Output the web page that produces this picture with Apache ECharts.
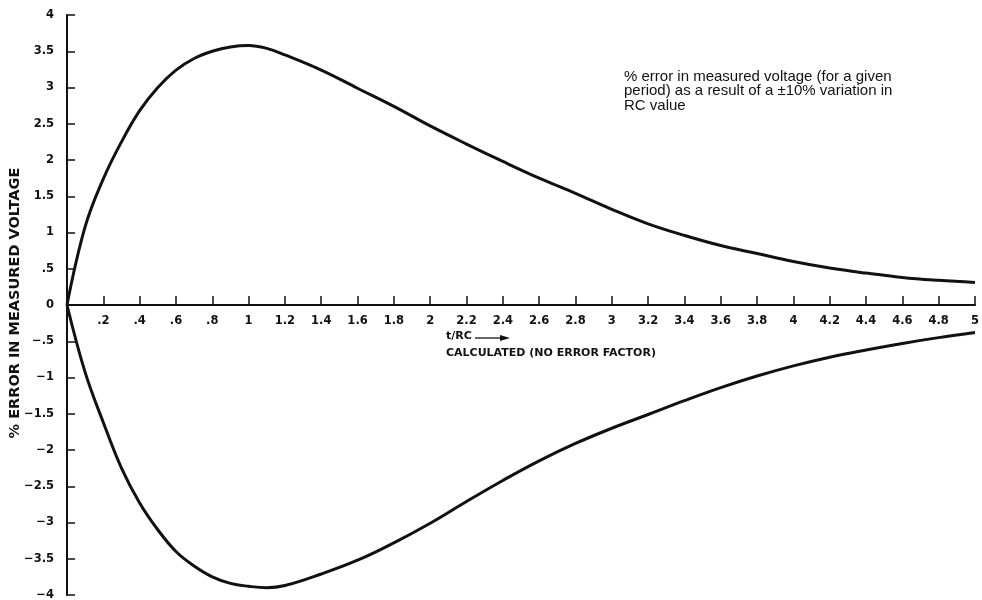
<!DOCTYPE html>
<html>
<head>
<meta charset="utf-8">
<script src="https://cdn.jsdelivr.net/npm/echarts@6/dist/echarts.min.js"></script>
<style>
html,body{margin:0;padding:0;background:#fff;}
#chart{width:982px;height:600px;}
</style>
</head>
<body>
<div id="chart"></div>
<script>
// t/RC values
const tRC = [0, 0.1, 0.2, 0.3, 0.4, 0.5, 0.6, 0.7, 0.8, 0.9, 1.0, 1.1, 1.2, 1.4, 1.6, 1.8, 2.0, 2.2, 2.4, 2.6, 2.8, 3.0, 3.2, 3.4, 3.6, 3.8, 4.0, 4.2, 4.4, 4.6, 4.8, 5.0];
// % error, upper curve
const upperError = [0, 1.08, 1.74, 2.25, 2.68, 3.0, 3.24, 3.40, 3.50, 3.56, 3.58, 3.54, 3.45, 3.24, 2.99, 2.74, 2.47, 2.22, 1.98, 1.75, 1.54, 1.32, 1.12, 0.96, 0.82, 0.71, 0.60, 0.51, 0.44, 0.38, 0.34, 0.31];
// % error, lower curve
const lowerError = [0, -0.93, -1.62, -2.25, -2.73, -3.10, -3.40, -3.60, -3.75, -3.84, -3.88, -3.90, -3.87, -3.71, -3.52, -3.28, -3.01, -2.71, -2.42, -2.15, -1.91, -1.70, -1.51, -1.32, -1.14, -0.98, -0.84, -0.72, -0.62, -0.53, -0.45, -0.38];

const yAxisTitle = '% ERROR IN MEASURED VOLTAGE';
const xAxisTitle1 = 't/RC';
const xAxisTitle2 = 'CALCULATED (NO ERROR FACTOR)';
const noteText = '% error in measured voltage (for a given\nperiod) as a result of a \u00B110% variation in\nRC value';

function fmt(v) {
  const r = Math.round(v * 10) / 10;
  if (r === 0) return '0';
  let s = String(Math.abs(r)).replace(/^0\./, '.');
  return (r < 0 ? '\u2212' : '') + s;
}

const chart = echarts.init(document.getElementById('chart'), null, {renderer: 'canvas'});
const labelFont = {color: '#111', fontFamily: 'DejaVu Sans', fontWeight: 'bold', fontSize: 11.5};
const gridTop = 15, gridBottom = 5, chartH = 600;
const plotH = chartH - gridTop - gridBottom;

chart.setOption({
  animation: false,
  backgroundColor: '#fff',
  grid: {left: 67, right: 7, top: gridTop, bottom: gridBottom, containLabel: false, outerBoundsMode: 'none'},
  xAxis: {
    type: 'value', min: 0, max: 5, interval: 0.2,
    position: 'bottom', offset: -plotH / 2,
    axisLine: {show: true, onZero: false, lineStyle: {color: '#111', width: 2}},
    axisTick: {show: true, inside: true, length: 9, lineStyle: {color: '#111', width: 1.5}},
    axisLabel: Object.assign({margin: 10, showMinLabel: true, showMaxLabel: true, hideOverlap: false,
      formatter: v => (Math.round(v * 10) === 0 ? '' : fmt(v))}, labelFont),
    splitLine: {show: false}
  },
  yAxis: {
    type: 'value', min: -4, max: 4, interval: 0.5,
    axisLine: {show: true, onZero: false, lineStyle: {color: '#111', width: 2}},
    axisTick: {show: true, inside: true, length: 8, lineStyle: {color: '#111', width: 1.5}},
    axisLabel: Object.assign({margin: 13, formatter: fmt}, labelFont),
    splitLine: {show: false}
  },
  series: [
    {type: 'line', data: tRC.map((x, i) => [x, upperError[i]]), smooth: 0.4, symbol: 'none',
     lineStyle: {color: '#111', width: 3}},
    {type: 'line', data: tRC.map((x, i) => [x, lowerError[i]]), smooth: 0.4, symbol: 'none',
     lineStyle: {color: '#111', width: 3}}
  ],
  graphic: [
    {type: 'text', x: 15, y: 303, rotation: Math.PI / 2,
     style: {text: yAxisTitle, fill: '#111', font: 'bold 14.5px "DejaVu Sans"', align: 'center', verticalAlign: 'middle'}},
    {type: 'text', left: 446, top: 331, style: {text: xAxisTitle1, fill: '#111', font: 'bold 11px "DejaVu Sans"'}},
    {type: 'line', shape: {x1: 475, y1: 338, x2: 503, y2: 338}, style: {stroke: '#111', lineWidth: 1.3}},
    {type: 'polygon', shape: {points: [[500, 335], [510, 338], [500, 341]]}, style: {fill: '#111'}},
    {type: 'text', left: 446, top: 348, style: {text: xAxisTitle2, fill: '#111', font: 'bold 11px "DejaVu Sans"'}},
    {type: 'text', left: 624, top: 69, style: {text: noteText, fill: '#111', font: '15px "Liberation Sans"', lineHeight: 14.5}}
  ]
});
</script>
</body>
</html>
